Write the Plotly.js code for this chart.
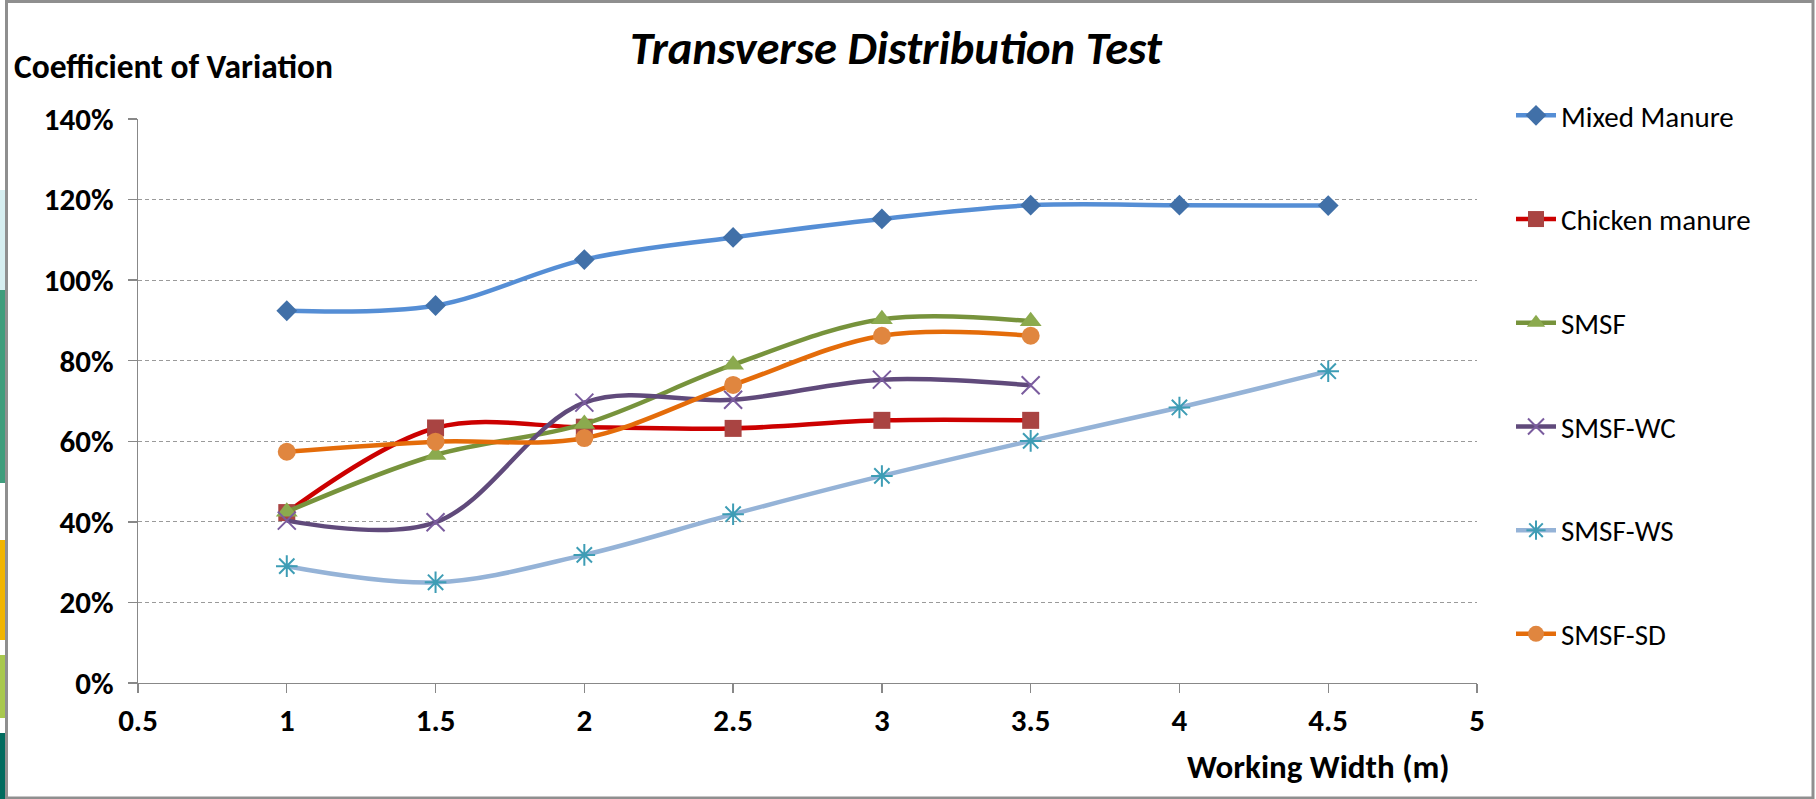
<!DOCTYPE html>
<html>
<head>
<meta charset="utf-8">
<script src="https://cdn.plot.ly/plotly-3.0.1.min.js"></script>
<style>html,body{margin:0;padding:0;background:#fff;}#chart{width:1816px;height:799px;}</style>
</head>
<body>
<div id="chart"></div>
<script>
// ---- data ----
const widths = [1, 1.5, 2, 2.5, 3, 3.5, 4, 4.5];
const widthsShort = [1, 1.5, 2, 2.5, 3, 3.5];
const mixedManure = [0.924, 0.937, 1.051, 1.106, 1.152, 1.186, 1.186, 1.185];
const chickenManure = [0.423, 0.633, 0.635, 0.632, 0.652, 0.652];
const smsf = [0.425, 0.566, 0.643, 0.790, 0.903, 0.898];
const smsfWC = [0.403, 0.399, 0.696, 0.703, 0.753, 0.739];
const smsfWS = [0.290, 0.250, 0.318, 0.419, 0.514, 0.601, 0.684, 0.774];
const smsfSD = [0.574, 0.599, 0.608, 0.740, 0.862, 0.862];
const seriesNames = ["Mixed Manure", "Chicken manure", "SMSF", "SMSF-WC", "SMSF-WS", "SMSF-SD"];
const xTickVals = [0.5, 1, 1.5, 2, 2.5, 3, 3.5, 4, 4.5, 5];
const xTickText = ["0.5", "1", "1.5", "2", "2.5", "3", "3.5", "4", "4.5", "5"];
const yTickVals = [0, 0.2, 0.4, 0.6, 0.8, 1.0, 1.2, 1.4];
const yTickText = ["0%", "20%", "40%", "60%", "80%", "100%", "120%", "140%"];

const FONT = "Carlito, Lato, 'DejaVu Sans', sans-serif";

function tr(name, x, y, lineColor, marker, grp) {
  return {
    type: "scatter", mode: "lines+markers", name: name, x: x, y: y,
    legendgroup: grp,
    line: {color: lineColor, width: 4.5, shape: "spline", smoothing: 1},
    marker: marker, hoverinfo: "x+y+name"
  };
}

const traces = [
  tr(seriesNames[0], widths, mixedManure, "#558ED5", {symbol: "diamond", size: 16, color: "#4170A8"}, "g1"),
  tr(seriesNames[1], widthsShort, chickenManure, "#CC0000", {symbol: "square", size: 17, color: "#A94442"}, "g2"),
  tr(seriesNames[2], widthsShort, smsf, "#77933C", {symbol: "triangle-up", size: 19, color: "#8BAA4E"}, "g3"),
  tr(seriesNames[3], widthsShort, smsfWC, "#604A7B", {symbol: "x-thin-open", size: 18, color: "#7A5C9E", line: {width: 2, color: "#7A5C9E"}}, "g4"),
  tr(seriesNames[4], widths, smsfWS, "#95B3D7", {symbol: "asterisk-open", size: 18, color: "#3E9DB5", line: {width: 2, color: "#3E9DB5"}}, "g5"),
  tr(seriesNames[5], widthsShort, smsfSD, "#E46C0A", {symbol: "circle", size: 18, color: "#E0863F"}, "g6")
];

const L = 138, R = 1477, T = 119, B = 683, W = 1816, H = 799;
const pw = R - L, ph = B - T;
const px = v => (v - L) / pw;
const py = v => (B - v) / ph;

const stripColors = [["#d6eef0", 190, 290], ["#3f9d7c", 290, 483], ["#f0b400", 540, 640], ["#a8c84e", 655, 718], ["#006b5e", 733, 799]];
const shapes = stripColors.map(s => ({
  type: "rect", xref: "paper", yref: "paper", layer: "below",
  x0: px(0), x1: px(5.5), y0: py(s[2]), y1: py(s[1]),
  fillcolor: s[0], line: {width: 0}
}));
shapes.push({
  type: "rect", xref: "paper", yref: "paper", layer: "below",
  x0: px(6.5), x1: px(1813), y0: py(798), y1: py(1.5),
  fillcolor: "rgba(0,0,0,0)", line: {color: "#8f8f8f", width: 3}
});

const layout = {
  width: W, height: H,
  margin: {l: L, r: W - R, t: T, b: H - B, pad: 0},
  paper_bgcolor: "#ffffff", plot_bgcolor: "#ffffff",
  font: {family: FONT, color: "#000"},
  title: {
    text: "Transverse Distribution Test",
    font: {family: FONT, size: 46.5, weight: "bold", style: "italic", color: "#000"},
    xref: "container", yref: "container",
    x: 896 / W, y: 1 - 48 / H, xanchor: "center", yanchor: "middle"
  },
  xaxis: {
    range: [0.5, 5], tickvals: xTickVals, ticktext: xTickText,
    showgrid: false, zeroline: false,
    showline: true, linecolor: "#888888", linewidth: 1.3,
    ticks: "outside", ticklen: 9, tickcolor: "#888888", tickwidth: 1.3,
    tickfont: {family: FONT, size: 31, weight: "bold", color: "#000"},
    fixedrange: true
  },
  yaxis: {
    range: [0, 1.4], tickvals: yTickVals, ticktext: yTickText,
    showgrid: true, gridcolor: "#9a9a9a", gridwidth: 1.2, griddash: "4px,3px",
    zeroline: false,
    showline: true, linecolor: "#888888", linewidth: 1.3,
    ticks: "outside", ticklen: 9, tickcolor: "#888888", tickwidth: 1.3,
    tickfont: {family: FONT, size: 31, weight: "bold", color: "#000"},
    ticklabelstandoff: 8,
    fixedrange: true
  },
  showlegend: true,
  legend: {
    x: px(1511), y: py(90), xanchor: "left", yanchor: "top",
    traceorder: "grouped", tracegroupgap: 63, maxheight: 1000,
    font: {family: FONT, size: 29, color: "#000"},
    bgcolor: "rgba(0,0,0,0)", borderwidth: 0, itemwidth: 40
  },
  annotations: [
    {text: "Coefficient of Variation", xref: "paper", yref: "paper",
     x: px(12), y: py(67), xanchor: "left", yanchor: "middle", showarrow: false,
     font: {family: FONT, size: 33.5, weight: "bold", color: "#000"}},
    {text: "Working Width (m)", xref: "paper", yref: "paper",
     x: px(1452), y: py(767), xanchor: "right", yanchor: "middle", showarrow: false,
     font: {family: FONT, size: 33, weight: "bold", color: "#000"}}
  ],
  shapes: shapes
};

Plotly.newPlot("chart", traces, layout, {displayModeBar: false, staticPlot: true});
</script>
</body>
</html>
